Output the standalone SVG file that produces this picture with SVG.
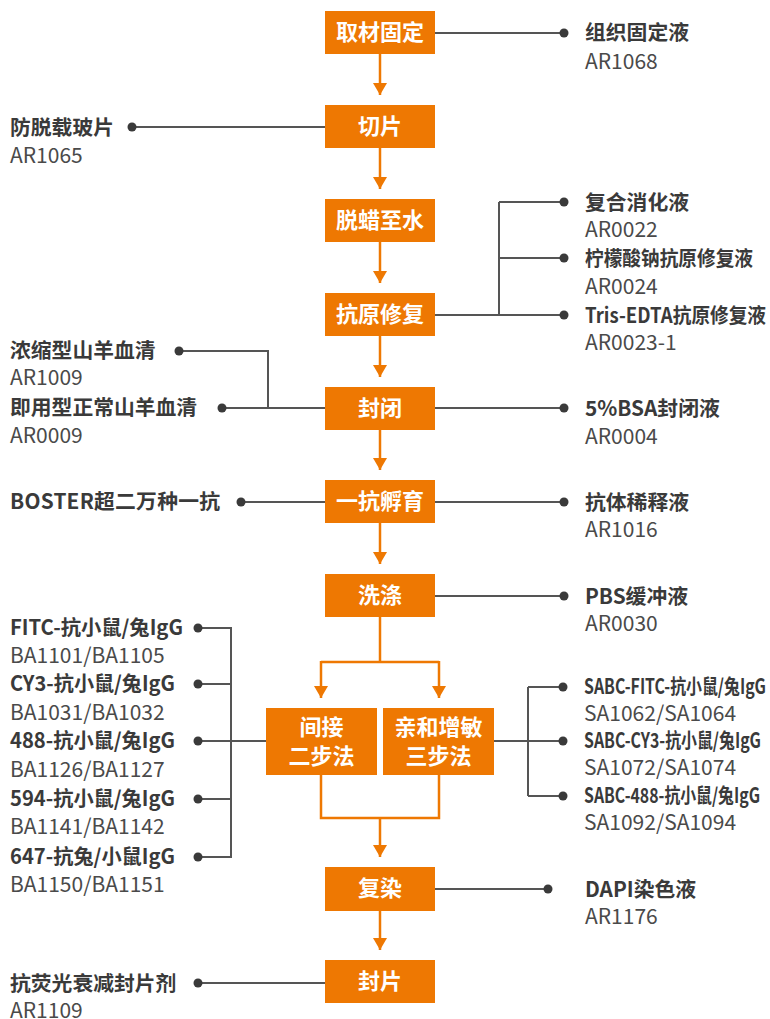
<svg xmlns="http://www.w3.org/2000/svg" width="770" height="1019" viewBox="0 0 770 1019">
<defs>
<style>
.box{fill:#EE7802}
.bt{font-family:"Noto Sans CJK SC","Liberation Sans",sans-serif;font-weight:bold;font-size:22px;fill:#fff;text-anchor:middle}
.nm{font-family:"Noto Sans CJK SC","Liberation Sans",sans-serif;font-weight:bold;font-size:20.8px;fill:#3a3a3a}
.cd{font-family:"Noto Sans CJK SC","Liberation Sans",sans-serif;font-weight:normal;font-size:21px;fill:#4a4a4a}
.gl{stroke:#555;stroke-width:2;fill:none}
.ol{stroke:#EE7802;stroke-width:2.5;fill:none}
.dot{fill:#3a3a3a}
</style>
<marker id="ah" markerUnits="userSpaceOnUse" markerWidth="14" markerHeight="14" refX="12" refY="7" orient="auto" viewBox="0 0 14 14">
<path d="M0,0 L12,7 L0,14 z" fill="#EE7802"/>
</marker>
</defs>
<rect width="770" height="1019" fill="#fff"/>

<g id="connectors">
<path class="ol" d="M380,54 V95" marker-end="url(#ah)"/>
<path class="ol" d="M380,148 V189" marker-end="url(#ah)"/>
<path class="ol" d="M380,242 V283" marker-end="url(#ah)"/>
<path class="ol" d="M380,336 V377" marker-end="url(#ah)"/>
<path class="ol" d="M380,430 V470" marker-end="url(#ah)"/>
<path class="ol" d="M380,523 V564" marker-end="url(#ah)"/>
<path class="ol" d="M380,617 V662"/>
<path class="ol" d="M321,662 H439"/>
<path class="ol" d="M321,661 V698" marker-end="url(#ah)"/>
<path class="ol" d="M439,661 V698" marker-end="url(#ah)"/>
<path class="ol" d="M321,775 V818 H439 V775"/>
<path class="ol" d="M380,818 V857" marker-end="url(#ah)"/>
<path class="ol" d="M380,911 V950" marker-end="url(#ah)"/>
<path class="gl" d="M435,33 H564"/>
<path class="gl" d="M132,127 H325"/>
<path class="gl" d="M435,315 H499 M499,202 V315 M499,202 H564 M499,258 H564 M499,315 H564"/>
<path class="gl" d="M179,351 H268 V408 M222,408 H325"/>
<path class="gl" d="M435,408 H564"/>
<path class="gl" d="M241,502 H325 M435,502 H564"/>
<path class="gl" d="M435,596 H564"/>
<path class="gl" d="M198,628 H231 V857 H198 M198,684 H231 M198,741 H266 M198,799 H231"/>
<path class="gl" d="M494,741 H528 M528,687 V796 M528,687 H563 M528,741 H563 M528,796 H563"/>
<path class="gl" d="M435,889 H548"/>
<path class="gl" d="M198,983 H325"/>
</g>

<g id="dots">
<circle class="dot" cx="564" cy="33" r="4.5"/>
<circle class="dot" cx="132" cy="127" r="4.5"/>
<circle class="dot" cx="564" cy="202" r="4.5"/>
<circle class="dot" cx="564" cy="258" r="4.5"/>
<circle class="dot" cx="564" cy="315" r="4.5"/>
<circle class="dot" cx="179" cy="351" r="4.5"/>
<circle class="dot" cx="222" cy="408" r="4.5"/>
<circle class="dot" cx="564" cy="408" r="4.5"/>
<circle class="dot" cx="241" cy="502" r="4.5"/>
<circle class="dot" cx="564" cy="502" r="4.5"/>
<circle class="dot" cx="564" cy="596" r="4.5"/>
<circle class="dot" cx="198" cy="628" r="4.5"/>
<circle class="dot" cx="198" cy="684" r="4.5"/>
<circle class="dot" cx="198" cy="741" r="4.5"/>
<circle class="dot" cx="198" cy="799" r="4.5"/>
<circle class="dot" cx="198" cy="857" r="4.5"/>
<circle class="dot" cx="563" cy="687" r="4.5"/>
<circle class="dot" cx="563" cy="741" r="4.5"/>
<circle class="dot" cx="563" cy="796" r="4.5"/>
<circle class="dot" cx="548" cy="889" r="4.5"/>
<circle class="dot" cx="198" cy="983" r="4.5"/>
</g>

<g id="n1"><rect class="box" x="325" y="11" width="110" height="43"/><text class="bt" x="380" y="40">取材固定</text></g>
<g id="n2"><rect class="box" x="325" y="105" width="110" height="43"/><text class="bt" x="380" y="134">切片</text></g>
<g id="n3"><rect class="box" x="325" y="199" width="110" height="43"/><text class="bt" x="380" y="228">脱蜡至水</text></g>
<g id="n4"><rect class="box" x="325" y="293" width="110" height="43"/><text class="bt" x="380" y="322">抗原修复</text></g>
<g id="n5"><rect class="box" x="325" y="387" width="110" height="43"/><text class="bt" x="380" y="416">封闭</text></g>
<g id="n6"><rect class="box" x="325" y="480" width="110" height="43"/><text class="bt" x="380" y="509">一抗孵育</text></g>
<g id="n7"><rect class="box" x="325" y="574" width="110" height="43"/><text class="bt" x="380" y="603">洗涤</text></g>
<g id="n8"><rect class="box" x="266" y="708" width="111" height="67"/><text class="bt" x="321.5" y="735">间接</text><text class="bt" x="321.5" y="764">二步法</text></g>
<g id="n9"><rect class="box" x="383" y="708" width="111" height="67"/><text class="bt" x="438.5" y="735">亲和增敏</text><text class="bt" x="438.5" y="764">三步法</text></g>
<g id="n10"><rect class="box" x="325" y="867" width="110" height="44"/><text class="bt" x="380" y="896">复染</text></g>
<g id="n11"><rect class="box" x="325" y="960" width="110" height="43"/><text class="bt" x="380" y="989">封片</text></g>

<g id="r1"><text class="nm" x="585" y="40">组织固定液</text><text class="cd" x="585" y="69">AR1068</text></g>
<g id="l1"><text class="nm" x="10" y="135">防脱载玻片</text><text class="cd" x="10" y="163">AR1065</text></g>
<g id="r2"><text class="nm" x="585" y="210">复合消化液</text><text class="cd" x="585" y="237">AR0022</text></g>
<g id="r3"><text class="nm" x="585" y="266" textLength="168" lengthAdjust="spacingAndGlyphs">柠檬酸钠抗原修复液</text><text class="cd" x="585" y="294">AR0024</text></g>
<g id="r4"><text class="nm" x="585" y="323" textLength="181" lengthAdjust="spacingAndGlyphs">Tris-EDTA抗原修复液</text><text class="cd" x="585" y="350">AR0023-1</text></g>
<g id="l2"><text class="nm" x="10" y="358">浓缩型山羊血清</text><text class="cd" x="10" y="385">AR1009</text></g>
<g id="l3"><text class="nm" x="10" y="415">即用型正常山羊血清</text><text class="cd" x="10" y="443">AR0009</text></g>
<g id="r5"><text class="nm" x="585" y="416">5%BSA封闭液</text><text class="cd" x="585" y="444">AR0004</text></g>
<g id="l4"><text class="nm" x="10" y="509" textLength="210" lengthAdjust="spacing">BOSTER超二万种一抗</text></g>
<g id="r6"><text class="nm" x="585" y="510">抗体稀释液</text><text class="cd" x="585" y="537">AR1016</text></g>
<g id="r7"><text class="nm" x="585" y="604">PBS缓冲液</text><text class="cd" x="585" y="631">AR0030</text></g>
<g id="l5"><text class="nm" x="10" y="635" textLength="173" lengthAdjust="spacingAndGlyphs">FITC-抗小鼠/兔IgG</text><text class="cd" x="10" y="663">BA1101/BA1105</text></g>
<g id="l6"><text class="nm" x="10" y="691" textLength="165" lengthAdjust="spacingAndGlyphs">CY3-抗小鼠/兔IgG</text><text class="cd" x="10" y="720">BA1031/BA1032</text></g>
<g id="l7"><text class="nm" x="10" y="748" textLength="165" lengthAdjust="spacingAndGlyphs">488-抗小鼠/兔IgG</text><text class="cd" x="10" y="777">BA1126/BA1127</text></g>
<g id="l8"><text class="nm" x="10" y="806" textLength="165" lengthAdjust="spacingAndGlyphs">594-抗小鼠/兔IgG</text><text class="cd" x="10" y="834">BA1141/BA1142</text></g>
<g id="l9"><text class="nm" x="10" y="864" textLength="165" lengthAdjust="spacingAndGlyphs">647-抗兔/小鼠IgG</text><text class="cd" x="10" y="892">BA1150/BA1151</text></g>
<g id="r8"><text class="nm" x="584" y="694" textLength="182" lengthAdjust="spacingAndGlyphs">SABC-FITC-抗小鼠/兔IgG</text><text class="cd" x="584" y="721">SA1062/SA1064</text></g>
<g id="r9"><text class="nm" x="584" y="748" textLength="177" lengthAdjust="spacingAndGlyphs">SABC-CY3-抗小鼠/兔IgG</text><text class="cd" x="584" y="775">SA1072/SA1074</text></g>
<g id="r10"><text class="nm" x="584" y="803" textLength="176" lengthAdjust="spacingAndGlyphs">SABC-488-抗小鼠/兔IgG</text><text class="cd" x="584" y="830">SA1092/SA1094</text></g>
<g id="r11"><text class="nm" x="585" y="897">DAPI染色液</text><text class="cd" x="585" y="924">AR1176</text></g>
<g id="l10"><text class="nm" x="10" y="991">抗荧光衰减封片剂</text><text class="cd" x="10" y="1018">AR1109</text></g>
</svg>
